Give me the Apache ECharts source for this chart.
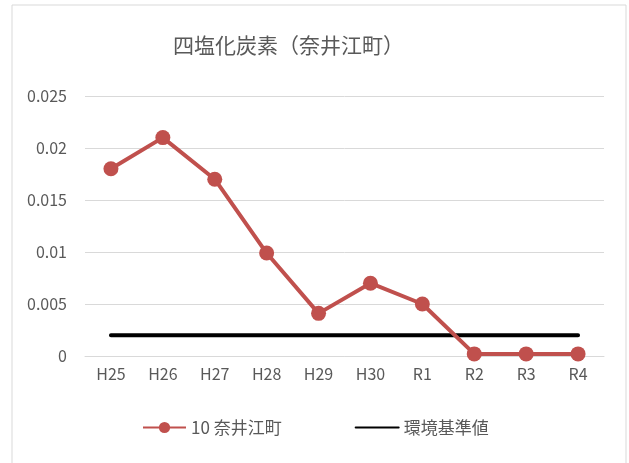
<!DOCTYPE html>
<html><head><meta charset="utf-8">
<script src="https://cdn.jsdelivr.net/npm/echarts@6/dist/echarts.min.js"></script>
<style>html,body{margin:0;padding:0;background:#fff}#c{width:629px;height:463px}</style>
</head><body><div id="c"></div>
<script>
const categories = ["H25","H26","H27","H28","H29","H30","R1","R2","R3","R4"];
const naie = [0.018,0.021,0.017,0.0099,0.0041,0.007,0.005,0.0002,0.0002,0.0002];
const standard = [0.002,0.002,0.002,0.002,0.002,0.002,0.002,0.002,0.002,0.002];
const yTicks = {min:0,max:0.025,interval:0.005};
const titleText = "四塩化炭素（奈井江町）";
const seriesNames = ["10 奈井江町","環境基準値"];
const font = "'Noto Sans CJK JP', sans-serif";
const chart = echarts.init(document.getElementById('c'), null, {renderer:'canvas'});
chart.setOption({
  animation:false,
  graphic:[{type:'rect',shape:{x:12,y:5,width:614,height:470},style:{fill:'none',stroke:'#d9d9d9',lineWidth:1},silent:true,z:-1}],
  title:{text:titleText,left:168,top:30,textStyle:{fontFamily:font,fontSize:21,fontWeight:'normal',color:'#595959'}},
  grid:{left:85,right:25,top:96,bottom:107},
  xAxis:{type:'category',data:categories,boundaryGap:true,
    axisLine:{show:true,lineStyle:{color:'#d9d9d9'}},axisTick:{show:false},
    axisLabel:{fontFamily:font,fontSize:16,color:'#595959',margin:10}},
  yAxis:{type:'value',min:yTicks.min,max:yTicks.max,interval:yTicks.interval,
    axisLine:{show:false},axisTick:{show:false},
    splitLine:{lineStyle:{color:'#d9d9d9',width:1}},
    axisLabel:{fontFamily:font,fontSize:16,color:'#595959',margin:18,
      formatter:v=>v===0?'0':String(+v.toFixed(3))}},
  legend:{left:137,top:414,itemWidth:43,itemHeight:14,itemGap:73,
    textStyle:{fontFamily:font,fontSize:17,color:'#595959'},
    data:[{name:seriesNames[0]},{name:seriesNames[1],itemStyle:{opacity:0}}]},
  series:[
    {name:seriesNames[1],type:'line',data:standard,symbol:'none',
     lineStyle:{color:'#000',width:4,cap:'round'},itemStyle:{color:'#000'},z:2},
    {name:seriesNames[0],type:'line',data:naie,symbol:'circle',symbolSize:15,
     lineStyle:{color:'#C0504D',width:4},itemStyle:{color:'#C0504D'},z:3}
  ]
});
</script></body></html>
